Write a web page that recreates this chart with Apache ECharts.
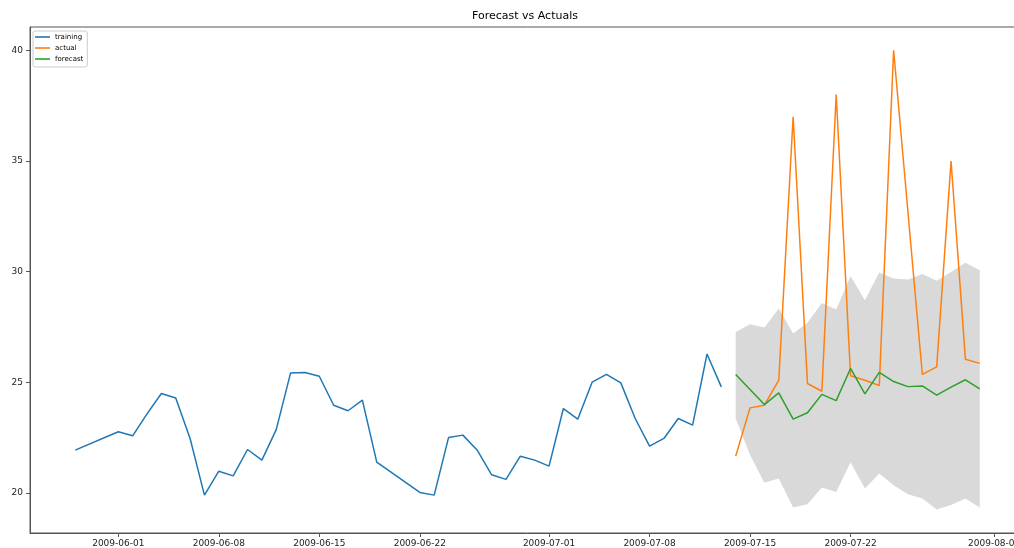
<!DOCTYPE html>
<html>
<head>
<meta charset="utf-8">
<title>Forecast vs Actuals</title>
<script src="https://cdn.jsdelivr.net/npm/echarts@6/dist/echarts.min.js"></script>
<style>
  html, body { margin: 0; padding: 0; background: #fff; overflow: hidden; }
  /* the original figure is cropped on the right, so the chart is a bit wider than the window */
  #chart { width: 1040px; height: 548px; }
</style>
</head>
<body>
<div id="chart"></div>
<script>
// training data
const trainDates = [
  '2009-05-29', '2009-06-01', '2009-06-02', '2009-06-03', '2009-06-04', '2009-06-05',
  '2009-06-06', '2009-06-07', '2009-06-08', '2009-06-09', '2009-06-10', '2009-06-11',
  '2009-06-12', '2009-06-13', '2009-06-14', '2009-06-15', '2009-06-16', '2009-06-17',
  '2009-06-18', '2009-06-19', '2009-06-22', '2009-06-23', '2009-06-24', '2009-06-25',
  '2009-06-26', '2009-06-27', '2009-06-28', '2009-06-29', '2009-06-30', '2009-07-01',
  '2009-07-02', '2009-07-03', '2009-07-04', '2009-07-05', '2009-07-06', '2009-07-07',
  '2009-07-08', '2009-07-09', '2009-07-10', '2009-07-11', '2009-07-12', '2009-07-13'
];
const trainValues = [
  21.94, 22.77, 22.59, 23.58, 24.50, 24.30,
  22.47, 19.91, 20.99, 20.78, 21.97, 21.49,
  22.87, 25.43, 25.45, 25.28, 23.97, 23.72,
  24.20, 21.40, 20.03, 19.91, 22.51, 22.62,
  21.94, 20.83, 20.62, 21.67, 21.49, 21.22,
  23.82, 23.34, 25.01, 25.36, 24.98, 23.37,
  22.12, 22.47, 23.37, 23.07, 26.28, 24.80
];

// actuals over the test period
const actualDates = [
  '2009-07-14', '2009-07-15', '2009-07-16', '2009-07-17', '2009-07-18', '2009-07-19',
  '2009-07-20', '2009-07-21', '2009-07-22', '2009-07-23', '2009-07-24', '2009-07-25',
  '2009-07-27', '2009-07-28', '2009-07-29', '2009-07-30', '2009-07-31'
];
const actualValues = [
  21.67, 23.85, 23.97, 25.10, 37.00, 24.95,
  24.60, 38.00, 25.30, 25.10, 24.86, 40.00,
  25.36, 25.70, 35.00, 26.05, 25.86
];

// forecast + interval
const forecastDates = [
  '2009-07-14', '2009-07-15', '2009-07-16', '2009-07-17', '2009-07-18', '2009-07-19',
  '2009-07-20', '2009-07-21', '2009-07-22', '2009-07-23', '2009-07-24', '2009-07-25',
  '2009-07-26', '2009-07-27', '2009-07-28', '2009-07-29', '2009-07-30', '2009-07-31'
];
const forecastValues = [
  25.36, 24.68, 24.00, 24.53, 23.34, 23.63,
  24.46, 24.18, 25.63, 24.48, 25.45, 25.04,
  24.81, 24.84, 24.43, 24.79, 25.12, 24.71
];
const upperValues = [
  27.28, 27.63, 27.48, 28.34, 27.21, 27.69,
  28.59, 28.29, 29.80, 28.71, 29.96, 29.69,
  29.65, 29.90, 29.59, 29.99, 30.40, 30.07
];
const lowerValues = [
  23.37, 21.72, 20.47, 20.66, 19.35, 19.50,
  20.26, 20.05, 21.40, 20.21, 20.89, 20.36,
  19.95, 19.76, 19.26, 19.46, 19.76, 19.35
];

// tick labels
const xTicks = ['2009-06-01', '2009-06-08', '2009-06-15', '2009-06-22', '2009-07-01',
                '2009-07-08', '2009-07-15', '2009-07-22', '2009-08-01'];
const yTicks = [20, 25, 30, 35, 40];

const DAY = 24 * 3600 * 1000;
function ts(s) {
  const p = s.split('-');
  return new Date(+p[0], +p[1] - 1, +p[2]).getTime();
}
function pairs(dates, values) {
  return dates.map((d, i) => [ts(d), values[i]]);
}
function pad2(n) { return n < 10 ? '0' + n : '' + n; }

const font = 'DejaVu Sans';
const frame = '#555';

let myChart = echarts.init(document.getElementById('chart'));
myChart.setOption({
  animation: false,
  title: {
    text: 'Forecast vs Actuals',
    left: 472,
    top: 11,
    padding: 0,
    textStyle: { fontFamily: font, fontSize: 11, fontWeight: 'normal', color: '#000' }
  },
  legend: {
    data: ['training', 'actual', 'forecast'],
    orient: 'vertical',
    left: 33,
    top: 31,
    padding: [2, 4, 4, 2],
    icon: 'rect',
    itemWidth: 15,
    itemHeight: 1.6,
    itemGap: 3,
    backgroundColor: '#fff',
    borderColor: '#ccc',
    borderWidth: 1,
    borderRadius: 2,
    textStyle: { fontFamily: font, fontSize: 7, color: '#000', lineHeight: 8 }
  },
  grid: {
    left: 30,
    right: 15,
    top: 27,
    bottom: 15,
    show: true,
    borderColor: frame,
    borderWidth: 1
  },
  // dates are plotted as timestamps on a value axis so the tick positions can be fixed
  xAxis: {
    type: 'value',
    min: ts(trainDates[0]) - 3.15 * DAY,
    max: ts(forecastDates[forecastDates.length - 1]) + 3.15 * DAY,
    splitLine: { show: false },
    axisLine: { lineStyle: { color: frame } },
    axisTick: { length: 4, lineStyle: { color: frame }, customValues: xTicks.map(ts) },
    axisLabel: {
      customValues: xTicks.map(ts),
      margin: 6,
      fontFamily: font,
      fontSize: 9,
      color: '#222',
      formatter: function (v) {
        const d = new Date(v);
        return d.getFullYear() + '-' + pad2(d.getMonth() + 1) + '-' + pad2(d.getDate());
      }
    }
  },
  yAxis: {
    type: 'value',
    min: 18.2,
    max: 41.05,
    splitLine: { show: false },
    axisLine: { show: true, lineStyle: { color: frame } },
    axisTick: { show: true, length: 4, lineStyle: { color: frame }, customValues: yTicks },
    axisLabel: { customValues: yTicks, margin: 7, fontFamily: font, fontSize: 9, color: '#222' }
  },
  series: [
    {
      // forecast interval, drawn as one polygon through the axis scales
      name: 'interval',
      type: 'custom',
      silent: true,
      data: forecastDates.map((d, i) => [ts(d), lowerValues[i], upperValues[i]]),
      encode: { x: 0, y: [1, 2] },
      renderItem: function (params, api) {
        if (params.dataIndex !== 0) return;
        const top = forecastDates.map((d, i) => api.coord([ts(d), upperValues[i]]));
        const bottom = forecastDates.map((d, i) => api.coord([ts(d), lowerValues[i]])).reverse();
        return {
          type: 'polygon',
          shape: { points: top.concat(bottom) },
          style: { fill: '#d9d9d9' }
        };
      }
    },
    {
      name: 'training',
      type: 'line',
      data: pairs(trainDates, trainValues),
      symbol: 'none',
      color: '#1f77b4',
      lineStyle: { width: 1.5 }
    },
    {
      name: 'actual',
      type: 'line',
      data: pairs(actualDates, actualValues),
      symbol: 'none',
      color: '#ff7f0e',
      lineStyle: { width: 1.5 }
    },
    {
      name: 'forecast',
      type: 'line',
      data: pairs(forecastDates, forecastValues),
      symbol: 'none',
      color: '#2ca02c',
      lineStyle: { width: 1.5 }
    }
  ]
});
</script>
</body>
</html>
